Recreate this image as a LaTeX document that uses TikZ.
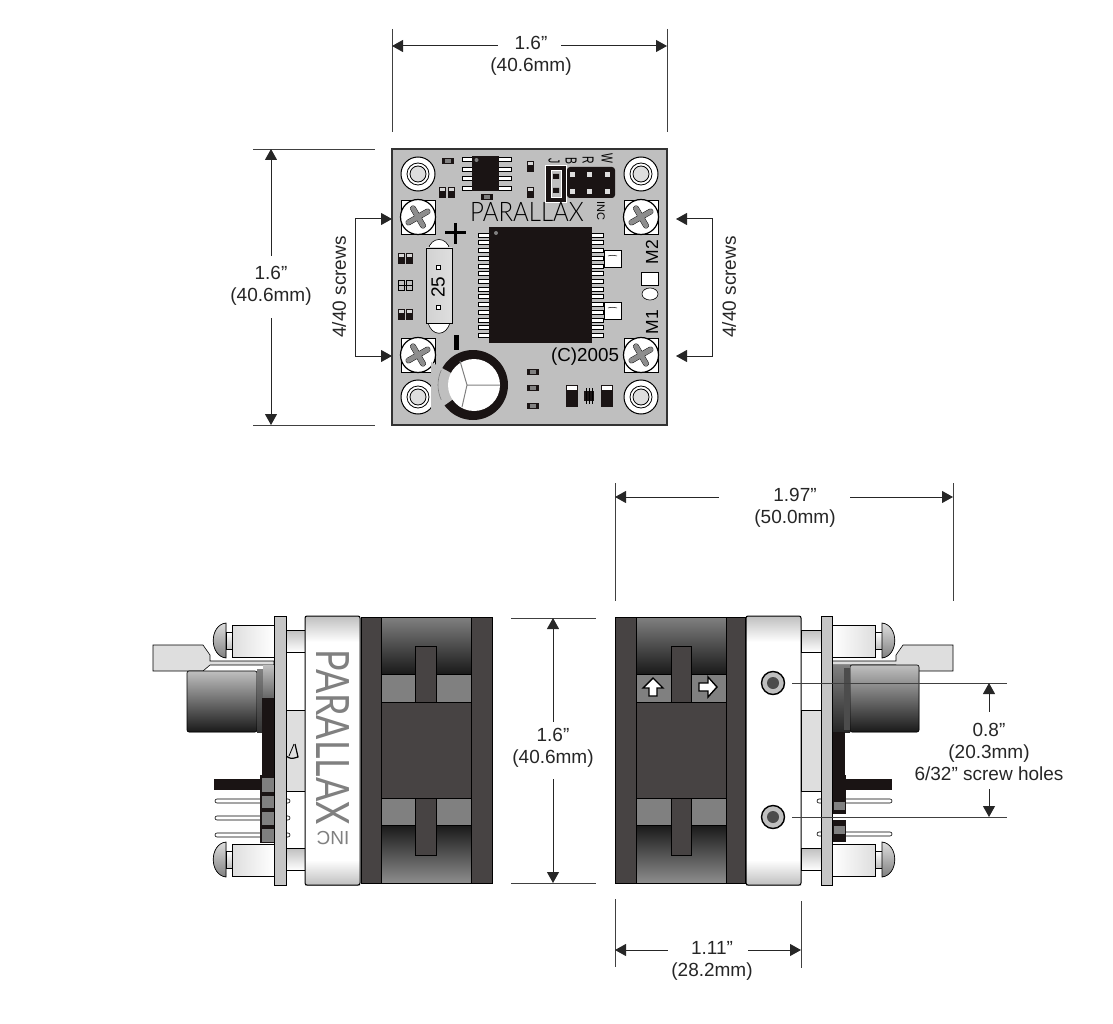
\documentclass[tikz,border=0pt]{standalone}
\usepackage{fontspec}
\setmainfont{Liberation Sans}
\newfontfamily\logofont{Lato Light}
\newfontfamily\logoside{Lato}
\usetikzlibrary{arrows.meta, calc, positioning}
\definecolor{boardgrey}{HTML}{BFBFBF}
\definecolor{darkstrip}{HTML}{474343}
\definecolor{midgrey}{HTML}{808080}
\definecolor{chipblack}{HTML}{1A1414}
\definecolor{palegrey}{HTML}{DEDEDE}
\tikzset{
  dimension/.style={
	>={Triangle[length=11pt,width=12pt]}, % solid heads on the dimension lines
	line width=1pt, draw=black!85,
  },
  extline/.style={line width=0.9pt, draw=black!75},
  dimlabel/.style={align=center, font=\fontsize{19}{22}\selectfont, inner sep=0pt, text=black!85},
}
% mounting standoff on the board
\newcommand{\standoffhole}[2]{
  \fill[white, draw=black, line width=1pt] (#1,#2) circle (17);
  \draw[line width=0.8pt, fill=white] (#1,#2) circle (11);
  \draw[line width=0.8pt, fill=palegrey] (#1,#2) circle (8);
}
% cross-head screw on its white pad
\newcommand{\crossscrew}[2]{
  \fill[white, draw=black, line width=0.7pt] (#1-17,#2-17) rectangle (#1+17,#2+17);
  \fill[white, draw=black, line width=1.2pt] (#1,#2) circle (17.5);
  \begin{scope}[shift={(#1,#2)}, rotate=30]
	\draw[line width=5.8pt, line cap=round] (-11,0) -- (11,0) (0,-10) -- (0,10);
	\draw[line width=4.9pt, line cap=round, midgrey!90!white] (-11,0) -- (11,0) (0,-10) -- (0,10);
  \end{scope}
}
% small two-end chip part, upright
\newcommand{\smallpart}[2]{
  \fill[chipblack] (#1-3.5,#2-5.5) rectangle (#1+3.5,#2+5.5);
  \fill[boardgrey!60!white] (#1-2.5,#2-4.5) rectangle (#1+2.5,#2-1.5);
}
% small part, lying down
\newcommand{\flatpart}[2]{
  \fill[chipblack] (#1-6,#2-3) rectangle (#1+6,#2+3);
  \fill[midgrey] (#1-3,#2-2) rectangle (#1+3,#2+2);
}
% motor block: x0 x1 x2 x3 tab-left tab-right
\newcommand{\motorblock}[6]{
  \fill[top color=midgrey, bottom color=black!90, draw=black] (#2,617) rectangle (#3,674);
  \fill[midgrey, draw=black] (#2,674) rectangle (#3,702);
  \fill[midgrey, draw=black] (#2,798) rectangle (#3,825);
  \fill[top color=black!90, bottom color=midgrey!90, draw=black] (#2,825) rectangle (#3,883);
  \fill[darkstrip, draw=black] (#2,702) rectangle (#3,798);
  \fill[darkstrip, draw=black] (#1,617) rectangle (#2,883);
  \fill[darkstrip, draw=black] (#3,617) rectangle (#4,883);
  \fill[darkstrip, draw=black] (#5,646) rectangle (#6,702);
  \fill[darkstrip, draw=black] (#5,798) rectangle (#6,855);
}
% white clamp with the gradients at both ends
\newcommand{\clampblock}[2]{
  \fill[top color=boardgrey, bottom color=white] (#1,616) rectangle (#2,642);
  \fill[white] (#1,642) rectangle (#2,860);
  \fill[top color=white, bottom color=boardgrey] (#1,860) rectangle (#2,885);
  \draw[line width=1pt, rounded corners=2pt] (#1,616) rectangle (#2,885);
}
% header pin seen from the side
\newcommand{\sidepin}[3]{
  \draw[fill=white, line width=0.6pt, rounded corners=2pt] (#1,#3-2) rectangle (#2,#3+2);
}
\begin{document}
\begin{tikzpicture}[x=1pt, y=-1pt]
	  \useasboundingbox (0,0) rectangle (1113,1024);

	  %%% top view of the board
	  \fill[boardgrey, draw=black!80, line width=1.2pt] (392,149) rectangle (667,425);
	  \foreach \x/\y in {418/174, 641/174, 418/397, 641/397} {\standoffhole{\x}{\y}}
	  \foreach \x/\y in {418/217, 641/217, 418/355, 641/355} {\crossscrew{\x}{\y}}
	  % SOIC in the corner
	  \foreach \y in {159, 169, 178, 188} {
		\draw[fill=white, line width=0.3pt] (462,\y-2) rectangle (511,\y+2);
	  }
	  \fill[chipblack] (472,156) rectangle (499,191);
	  \fill[midgrey] (476.5,160) circle (2);
	  \flatpart{448}{161}
	  \flatpart{487}{197}
	  \smallpart{442}{193}
	  \smallpart{451}{193}
	  \smallpart{530}{167}
	  \smallpart{530}{193}
	  \smallpart{401}{259}
	  \smallpart{409}{259}
	  \draw[line width=0.6pt] (398,280) rectangle (404,290) (406,280) rectangle (412,290);
	  \draw[line width=0.5pt] (398,285) -- (412,285);
	  \smallpart{401}{314}
	  \smallpart{409}{314}
	  % jumper and header
	  \fill[chipblack, draw=white, line width=0.8pt] (545,165) rectangle (566,202);
	  \draw[white, fill=boardgrey, line width=0.8pt] (551,170) rectangle (561,197);
	  \fill[chipblack] (553,174) rectangle (559,179) (553,188) rectangle (559,193);
	  \fill[chipblack, rounded corners=3pt] (567,167) rectangle (615,198);
	  \foreach \x in {572, 589, 607} {
		\foreach \y in {175, 192} {
		  \fill[palegrey] (\x-2.5,\y-2.5) rectangle (\x+2.5,\y+2.5);
		}
	  }
	  \foreach \x/\y/\txt/\name in {554/161/J/lblJ, 571/161/B/lblB, 588/160/R/lblR, 607/158/W/lblW} {
		\node[rotate=-90, inner sep=0pt] (\name) at (\x,\y) {\scalebox{0.65}[1]{\fontsize{16}{16}\selectfont\txt}};
	  }
	  \node[rotate=-90, font=\fontsize{11}{11}\selectfont, inner sep=0pt] (lblinc) at (601,211) {INC};
	  \node[inner sep=0pt] (logotop) at (527,212) {\scalebox{1}[1.12]{\logofont\fontsize{24}{24}\selectfont PARALLAX}};
	  % main chip
	  \foreach \i in {0,...,13} {
		\draw[fill=white, line width=0.4pt] (478,235+\i*7.7-2) rectangle (603,235+\i*7.7+2);
	  }
	  \fill[chipblack] (489,227) rectangle (592,343);
	  \fill[midgrey] (496,233) circle (2);
	  \foreach \y in {250, 302} {
		\draw[fill=white, line width=0.5pt] (604,\y) rectangle (621,\y+17);
		\draw[line width=0.5pt] (608,\y+6) .. controls (612,\y+5) .. (617,\y+6);
	  }
	  \node[rotate=90, font=\fontsize{17.5}{17}\selectfont, inner sep=0pt] (lblmtwo) at (652,252) {M2};
	  \node[rotate=90, font=\fontsize{17.5}{17}\selectfont, inner sep=0pt] (lblmone) at (652,322) {M1};
	  \draw[fill=white, line width=0.6pt] (641,272) rectangle (658,285);
	  \draw[fill=white, line width=0.6pt] (650,294) ellipse (8 and 6);
	  \node[font=\fontsize{18.8}{18}\selectfont, inner sep=0pt] (lblyear) at (585,357) {(C)2005};
	  % fuse
	  \fill[white, draw=black, line width=0.6pt] (428,250) .. controls (431,236) and (447,236) .. (450,250) -- cycle;
	  \fill[white, draw=black, line width=0.6pt] (428,322) .. controls (431,337) and (447,337) .. (450,322) -- cycle;
	  \fill[left color=boardgrey!70, right color=palegrey, draw=black, line width=0.7pt] (426,248) rectangle (452,323);
	  \draw[fill=white, line width=0.5pt] (436,265) rectangle (440,269) (436,305) rectangle (440,309);
	  \node[rotate=90, font=\fontsize{19}{19}\selectfont, inner sep=0pt] (lblfuse) at (438,287) {25};
	  \draw[line width=3pt] (445,233) -- (466,233) (455,223) -- (455,244);
	  \fill (453.5,335) rectangle (458.5,350);
	  % electrolytic capacitor
	  \fill[chipblack] (473,385) circle (35);
	  \fill[boardgrey] (473,385) -- (431,362) -- (431,415) -- cycle;
	  \draw[midgrey, line width=0.6pt] (473,385) ++(155:35) arc (155:205:35);
	  \fill[white] (474,385) circle (26);
	  \draw[midgrey, line width=1pt] (467,385) -- (500,385) (467,385) -- (460,361) (467,385) -- (462,407);
	  \flatpart{533}{372}
	  \flatpart{533}{388}
	  \flatpart{533}{406}
	  \foreach \x in {566, 601} {
		\fill[chipblack] (\x,385) rectangle (\x+12,407);
		\fill[white] (\x+1,386) rectangle (\x+11,390);
	  }
	  \fill[chipblack] (584,391) rectangle (594,401);
	  \draw[line width=1pt] (586,388) -- (586,404) (589,388) -- (589,404) (592,388) -- (592,404);

	  %%% left side view
	  \foreach \y in {801, 818, 835} {\sidepin{215}{290}{\y}}
	  % terminal lead
	  \draw[fill=palegrey, line width=0.6pt] (153,645) -- (203,645) -- (210,655) -- (210,661) -- (274,661) -- (274,665) -- (210,665) -- (203,671) -- (153,671) -- cycle;
	  \foreach \y in {623, 842} {
		\fill[top color=white, bottom color=boardgrey, draw=black, line width=0.7pt] (226,\y+9) rectangle (232,\y+26);
		\fill[top color=palegrey, bottom color=midgrey, draw=black, line width=0.7pt] (226,\y) .. controls (209,\y+2) and (209,\y+33) .. (226,\y+35) -- cycle;
		\fill[left color=palegrey, right color=white, draw=black, line width=0.7pt] (232,\y+2) rectangle (274,\y+34);
	  }
	  \fill[top color=boardgrey, bottom color=black!90, draw=black, line width=0.6pt, rounded corners=2pt] (187,671) rectangle (257,732);
	  \fill[top color=midgrey, bottom color=black!80] (257,669) rectangle (263,732);
	  \fill[top color=boardgrey, bottom color=black!60] (263,665) rectangle (274,698);
	  \fill[chipblack] (262,698) rectangle (274,777);
	  \fill[chipblack] (214,779) rectangle (260,790);
	  \fill[chipblack] (260,775) rectangle (274,843);
	  \foreach \y/\h in {778/14, 796/12, 812/13, 829/13} {\fill[midgrey] (262,\y) rectangle (274,\y+\h);}
	  \foreach \y in {630, 848} {
		\fill[top color=boardgrey, bottom color=white, draw=black, line width=0.6pt] (285,\y) rectangle (305,\y+22);
	  }
	  \draw[fill=palegrey, line width=0.6pt] (286,710) rectangle (305,791);
	  \draw[line width=1.2pt] (286,756) .. controls (291,759) .. (298,757) -- (295,744);
	  \draw[line width=0.8pt] (289,756) -- (294,744);
	  \draw[fill=boardgrey!90, line width=0.8pt] (274,616) rectangle (286,885);
	  \clampblock{305}{360}
	  \node[rotate=-90, midgrey, inner sep=0pt] (logoleft) at (333,737) {\scalebox{0.78}[1]{\logoside\fontsize{46}{46}\selectfont PARALLAX}};
	  \node[rotate=180, midgrey, font=\fontsize{19}{19}\selectfont, inner sep=0pt] (incleft) at (333,838) {INC};
	  \motorblock{361}{381}{471}{492}{415}{436}

	  %%% right side view
	  \motorblock{615}{636}{726}{745}{671}{691}
	  % the two arrows on the motor
	  \draw[fill=white, line width=1.4pt] (653,678) -- (663,688) -- (657,688) -- (657,696) -- (649,696) -- (649,688) -- (643,688) -- cycle;
	  \draw[fill=white, line width=1.4pt] (717,687) -- (708,677) -- (708,683) -- (699,683) -- (699,691) -- (708,691) -- (708,697) -- cycle;
	  \clampblock{746}{801}
	  \foreach \y in {683, 817} {
		\fill[boardgrey, draw=black, line width=1.4pt] (773,\y) circle (11.5);
		\fill[black!70] (773,\y) circle (6);
	  }
	  \foreach \y in {801, 834} {\sidepin{817}{892}{\y}}
	  \foreach \y in {630, 848} {
		\fill[top color=boardgrey, bottom color=white, draw=black, line width=0.6pt] (801,\y) rectangle (821,\y+22);
	  }
	  \draw[fill=palegrey, line width=0.6pt] (801,710) rectangle (821,791);
	  \draw[fill=palegrey, line width=0.6pt] (953,645) -- (903,645) -- (896,655) -- (896,661) -- (832,661) -- (832,665) -- (896,665) -- (903,671) -- (953,671) -- cycle;
	  \foreach \y in {623, 842} {
		\fill[top color=white, bottom color=boardgrey, draw=black, line width=0.7pt] (875,\y+9) rectangle (882,\y+26);
		\fill[top color=palegrey, bottom color=midgrey, draw=black, line width=0.7pt] (882,\y) .. controls (899,\y+2) and (899,\y+33) .. (882,\y+35) -- cycle;
		\fill[left color=white, right color=palegrey, draw=black, line width=0.7pt] (832,\y+2) rectangle (875,\y+34);
	  }
	  \fill[top color=boardgrey, bottom color=black!90, draw=black, line width=0.6pt, rounded corners=2pt] (850,665) rectangle (919,732);
	  \fill[top color=midgrey, bottom color=black!85] (832,665) rectangle (850,732);
	  \fill[black!70] (844,668) rectangle (850,730);
	  \fill[chipblack] (832,732) rectangle (845,778);
	  \fill[chipblack] (845,779) rectangle (892,790);
	  \fill[chipblack] (832,775) rectangle (846,814);
	  \fill[chipblack] (832,820) rectangle (846,842);
	  \foreach \y in {802, 826} {\fill[midgrey] (834,\y) rectangle (845,\y+8);}
	  \draw[fill=boardgrey!90, line width=0.8pt] (821,616) rectangle (832,885);

	  %%% dimensions
	  \foreach \name/\x/\y in {wa/392/46, wat/498/46, wb/667/46, wbt/561/46,
		ha/271/149, hat/271/256, hb/271/425, hbt/271/318,
		da/615/497, dat/719/497, db/953/497, dbt/850/497,
		ma/553/618, mat/553/722, mb/553/883, mbt/553/779,
		pa/989/683, pat/989/712, pb/989/817, pbt/989/789,
		ca/615/950, cat/668/950, cb/801/950, cbt/748/950,
		sa/392/219, sat/355/219, sb/392/356, sbt/355/356,
		sc/676/219, sct/712/219, sd/676/356, sdt/712/356} {
		\coordinate (\name) at (\x,\y);
	  }
	  \begin{scope}[dimension]
		% width of the board
		\node[dimlabel] (wlabel) at (531,56) {1.6”\\(40.6mm)};
		\draw[extline] (392,29) -- (392,132) (667,29) -- (667,132);
		\draw[<-] (wa) -- (wat);
		\draw[<-] (wb) -- (wbt);
		% height of the board
		\node[dimlabel] (hlabel) at (271,286) {1.6”\\(40.6mm)};
		\draw[extline] (253,149) -- (375,149) (253,425) -- (375,425);
		\draw[<-] (ha) -- (hat);
		\draw[<-] (hb) -- (hbt);
		% the 4/40 screws
		\draw[<->] (sa) -- (sat) -- (sbt) -- (sb);
		\draw[<->] (sc) -- (sct) -- (sdt) -- (sd);
		\node[dimlabel, rotate=90] (slabela) at (339,287) {4/40 screws};
		\node[dimlabel, rotate=90] (slabelb) at (729,287) {4/40 screws};
		% total depth
		\node[dimlabel] (dlabel) at (795,508) {1.97”\\(50.0mm)};
		\draw[extline] (615,483) -- (615,601) (953,483) -- (953,601);
		\draw[<-] (da) -- (dat);
		\draw[<-] (db) -- (dbt);
		% height of the motors
		\node[dimlabel] (mlabel) at (553,748) {1.6”\\(40.6mm)};
		\draw[extline] (511,618) -- (596,618) (511,883) -- (596,883);
		\draw[<-] (ma) -- (mat);
		\draw[<-] (mb) -- (mbt);
		% screw holes
		\node[dimlabel] (plabel) at (989,752) {0.8”\\(20.3mm)\\6/32” screw holes};
		\draw[extline] (792,683) -- (1007,683) (792,817) -- (1007,817);
		\draw[<-] (pa) -- (pat);
		\draw[<-] (pb) -- (pbt);
		% clamp to motor
		\node[dimlabel] (clabel) at (712,961) {1.11”\\(28.2mm)};
		\draw[extline] (615,899) -- (615,967) (801,901) -- (801,968);
		\draw[<-] (ca) -- (cat);
		\draw[<-] (cb) -- (cbt);
	  \end{scope}
\end{tikzpicture}
\end{document}
